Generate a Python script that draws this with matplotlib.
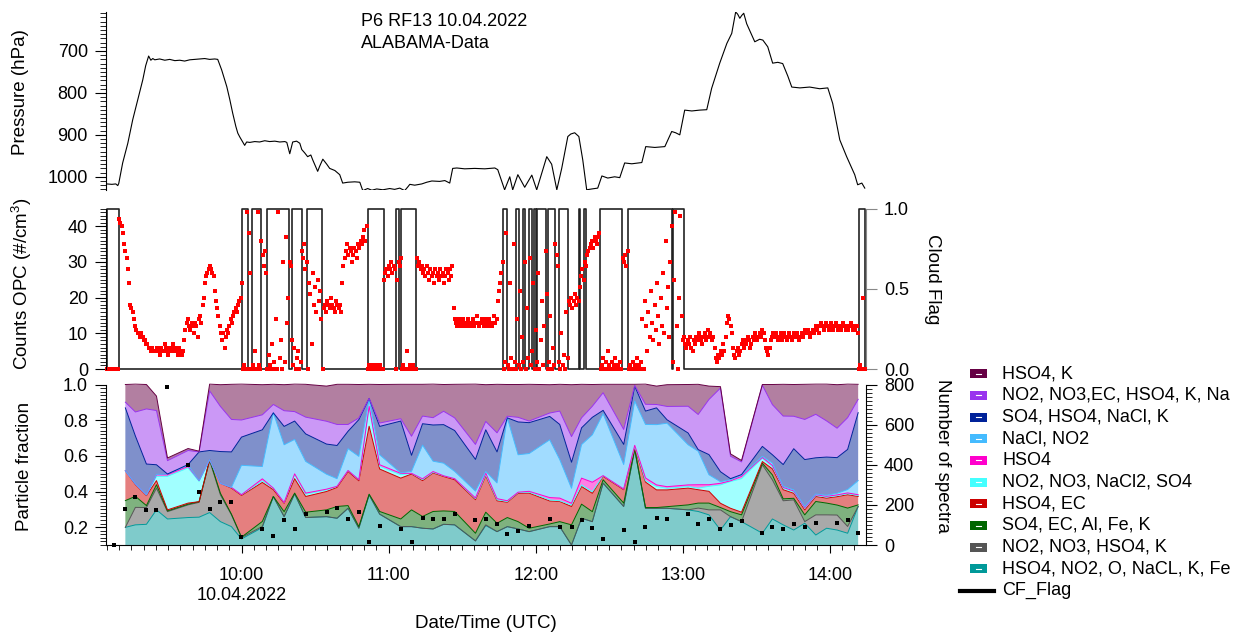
import numpy as np
import matplotlib
matplotlib.use("Agg")
import matplotlib.pyplot as plt
from matplotlib.ticker import MultipleLocator, FormatStrFormatter
from matplotlib.patches import Rectangle
from matplotlib.lines import Line2D

# ==========================================
# Data (times in minutes after 09:00 UTC, 10.04.2022)
# ==========================================

# static pressure along the flight track
press_min = [4.9, 7.0, 8.6, 9.4, 9.8, 11.4, 13.5, 15.5, 17.6, 19.6,
             20.8, 22.0, 22.9, 23.7, 24.5, 26.5, 28.6, 30.6, 32.7, 34.7,
             36.7, 38.8, 40.8, 42.9, 44.9, 46.9, 49.0, 50.2, 51.8, 53.9,
             55.1, 56.3, 57.6, 58.4, 59.2, 61.2, 62.0, 63.3, 65.3, 67.3,
             69.4, 71.4, 73.5, 75.5, 77.6, 78.4, 79.6, 80.8, 82.4, 83.7,
             84.5, 85.7, 86.9, 88.2, 89.0, 91.0, 91.8, 93.1, 94.7, 95.9,
             98.0, 100.0, 101.2, 103.3, 106.1, 108.2, 109.4, 111.4, 113.1, 115.1,
             117.6, 120.4, 122.4, 124.5, 126.5, 127.8, 128.6, 130.6, 133.5, 135.5,
             137.6, 140.8, 142.9, 144.9, 146.1, 147.8, 151.0, 155.1, 159.2, 163.3,
             164.5, 167.3, 169.4, 170.6, 172.7, 175.5, 178.4, 180.4, 184.5, 186.5,
             188.6, 190.6, 193.1, 194.3, 195.9, 197.6, 199.2, 200.8, 202.9, 205.3,
             207.0, 209.4, 212.2, 214.3, 216.3, 219.2, 223.3, 224.9, 228.6, 232.7,
             235.5, 237.1, 238.8, 240.8, 243.7, 246.9, 249.8, 251.8, 255.1, 258.0,
             260.0, 261.6, 262.4, 263.3, 264.1, 264.9, 266.1, 269.4, 271.4, 272.7,
             274.7, 276.7, 278.8, 280.8, 282.9, 284.5, 287.8, 291.8, 295.9, 299.2,
             301.2, 304.1, 306.9, 310.2, 311.4, 313.1, 314.3]
press_hpa = [1017, 1018, 1017, 1021, 1016, 967, 920, 864, 815, 769,
             735, 712, 722, 718, 721, 719, 722, 720, 723, 722,
             724, 721, 720, 719, 718, 720, 719, 720, 745, 785,
             815, 848, 880, 896, 905, 925, 917, 918, 916, 917,
             914, 916, 915, 917, 916, 918, 945, 917, 915, 920,
             935, 943, 952, 948, 960, 987, 975, 958, 970, 980,
             985, 995, 1015, 1013, 1012, 1013, 1033, 1028, 1032, 1029,
             1031, 1028, 1030, 1027, 1033, 1024, 1018, 1020, 1017, 1013,
             1010, 1011, 1009, 1015, 980, 979, 981, 980, 981, 979,
             983, 1031, 1000, 1031, 995, 1025, 996, 1031, 952, 970,
             1031, 980, 904, 898, 895, 904, 960, 1031, 1029, 1027,
             998, 1003, 1000, 1002, 967, 969, 966, 928, 930, 928,
             892, 895, 900, 841, 843, 841, 840, 789, 729, 682,
             658, 607, 612, 622, 615, 610, 635, 678, 672, 674,
             690, 729, 727, 730, 760, 786, 788, 786, 790, 788,
             825, 912, 952, 995, 1019, 1015, 1027]

# OPC counts (#/cm3), one reading every 30 s starting 09:05:00
opc_start_min = 5.0
opc_step_min = 0.5
opc_counts = [
    0, 0, 0, 0, 0, 0, 0, 0, 0, 0, 42, 41, 40, 38, 35, 33, 31, 28, 24, 18,
    17, 16, 14, 12, 11, 10, 10, 9, 10, 9, 8, 8, 7, 7, 6, 6, 5, 6, 5, 5,
    5, 6, 5, 4, 6, 5, 5, 7, 6, 5, 4, 6, 5, 6, 7, 5, 6, 5, 4, 6,
    5, 4, 5, 8, 11, 13, 14, 12, 11, 13, 12, 10, 13, 12, 9, 14, 15, 13, 18, 20,
    24, 26, 27, 28, 29, 28, 27, 26, 22, 19, 17, 15, 12, 10, 8, 10, 6, 9, 11, 10,
    12, 14, 13, 15, 16, 17, 16, 18, 19, 20, 24, 0, 1, 0, 44, 0, 38, 27, 0, 1,
    0, 5, 0, 44, 1, 0, 36, 32, 29, 33, 27, 0, 4, 1, 0, 7, 2, 0, 14, 0,
    44, 3, 8, 0, 30, 2, 37, 13, 20, 30, 29, 8, 1, 6, 0, 3, 5, 0, 2, 33,
    31, 35, 28, 30, 0, 24, 21, 7, 27, 18, 23, 16, 25, 19, 22, 14, 0, 17, 18, 16,
    19, 18, 17, 20, 18, 17, 16, 19, 18, 17, 18, 16, 24, 29, 31, 33, 35, 32, 34, 33,
    30, 32, 34, 33, 31, 35, 34, 36, 35, 37, 39, 36, 40, 0, 1, 0, 0, 1, 0, 0,
    1, 0, 0, 1, 0, 0, 25, 27, 28, 26, 29, 28, 30, 27, 29, 28, 0, 25, 30, 29,
    31, 0, 1, 0, 0, 5, 0, 1, 0, 0, 1, 0, 0, 31, 29, 30, 28, 29, 27, 28,
    26, 29, 27, 25, 28, 26, 27, 24, 28, 26, 27, 25, 28, 26, 27, 24, 26, 28, 27, 25,
    28, 26, 29, 17, 14, 13, 12, 14, 13, 12, 13, 14, 12, 13, 12, 14, 13, 12, 13, 14,
    12, 13, 15, 13, 12, 13, 14, 13, 12, 14, 13, 12, 14, 13, 12, 13, 15, 13, 14, 19,
    22, 24, 27, 30, 0, 2, 38, 1, 0, 24, 3, 0, 35, 2, 0, 14, 1, 22, 0, 9,
    2, 30, 0, 17, 3, 31, 1, 5, 24, 0, 11, 2, 27, 0, 8, 19, 1, 12, 33, 21,
    0, 2, 15, 0, 6, 1, 35, 32, 29, 2, 0, 10, 1, 4, 0, 16, 3, 19, 18, 20,
    17, 19, 21, 18, 20, 19, 23, 26, 28, 25, 30, 29, 32, 33, 34, 35, 36, 34, 37, 36,
    35, 37, 38, 0, 1, 3, 0, 2, 0, 5, 1, 0, 2, 0, 1, 3, 0, 1, 0, 2,
    0, 31, 30, 32, 29, 33, 0, 1, 0, 2, 0, 1, 0, 3, 1, 0, 2, 14, 0, 19,
    12, 5, 16, 9, 22, 13, 8, 18, 11, 24, 15, 7, 20, 12, 27, 10, 36, 17, 23, 9,
    30, 40, 2, 25, 44, 12, 0, 20, 43, 15, 8, 9, 7, 6, 8, 7, 9, 6, 5, 8,
    7, 9, 8, 10, 9, 8, 7, 9, 10, 8, 9, 11, 10, 9, 8, 9, 6, 3, 2, 4,
    3, 5, 4, 7, 5, 9, 13, 15, 14, 12, 10, 6, 4, 3, 5, 6, 4, 5, 7, 8,
    6, 8, 7, 9, 8, 6, 7, 9, 8, 10, 9, 8, 9, 10, 9, 11, 10, 8, 6, 5,
    4, 6, 8, 9, 10, 9, 10, 9, 8, 9, 10, 8, 9, 10, 9, 8, 9, 10, 9, 8,
    9, 10, 9, 10, 9, 8, 9, 10, 9, 10, 11, 10, 11, 10, 9, 10, 11, 10, 11, 12,
    11, 10, 12, 13, 12, 11, 12, 13, 12, 11, 12, 13, 12, 11, 12, 13, 12, 11, 12, 11,
    12, 13, 12, 11, 12, 11, 12, 13, 12, 11, 12, 11, 12, 10, 0, 1, 0, 20, 0, 0,
]

# cloud flag = 1 between start and end
cloud_start_min = [4.9, 60.3, 64.0, 70.5, 80.5, 86.8, 111.6, 122.9, 125.2, 166.7,
                   171.8, 174.6, 177.3, 179.2, 180.5, 185.0, 189.4, 197.6, 199.7,
                   206.1, 217.7, 236.0, 311.8]
cloud_end_min = [9.8, 62.6, 68.0, 79.3, 84.4, 92.9, 118.0, 124.1, 131.3, 168.3,
                 173.2, 175.7, 178.4, 180.3, 184.1, 187.8, 193.2, 198.0, 200.7,
                 215.4, 235.6, 240.5, 314.5]

# ALABAMA particle classes: sample times and fractions
frac_min = [12.5, 16.6, 21.1, 25.2, 29.7, 38.1, 42.6, 46.9, 51.3, 55.8,
            59.9, 68.4, 72.9, 77.3, 81.6, 86.1, 94.6, 98.9, 103.4, 107.8,
            112.0, 116.3, 124.9, 129.3, 133.8, 138.1, 142.4, 146.9, 155.4, 159.6,
            164.2, 168.4, 172.8, 177.3, 185.7, 189.8, 194.6, 198.7, 203.1, 207.5,
            215.9, 220.4, 224.8, 229.3, 233.6, 242.2, 246.3, 250.7, 255.4, 259.5,
            264.0, 272.5, 276.6, 281.0, 285.3, 289.8, 294.3, 298.7, 303.0, 307.3, 311.6]

frac_teal = [0.199, 0.213, 0.216, 0.297, 0.246, 0.254, 0.256, 0.282, 0.231, 0.203,
             0.134, 0.198, 0.372, 0.259, 0.387, 0.254, 0.259, 0.250, 0.306, 0.194,
             0.381, 0.273, 0.203, 0.203, 0.194, 0.190, 0.216, 0.213, 0.123, 0.209,
             0.175, 0.203, 0.190, 0.175, 0.203, 0.203, 0.100, 0.250, 0.231, 0.447,
             0.316, 0.634, 0.306, 0.306, 0.306, 0.297, 0.288, 0.269, 0.184, 0.259,
             0.231, 0.166, 0.246, 0.213, 0.184, 0.222, 0.156, 0.194, 0.184, 0.166, 0.316]
frac_grey = [0.000, 0.098, 0.094, 0.122, 0.041, 0.071, 0.083, 0.291, 0.150, 0.066,
             0.008, 0.006, 0.000, 0.000, 0.000, 0.000, 0.000, 0.000, 0.000, 0.000,
             0.000, 0.000, 0.000, 0.000, 0.000, 0.000, 0.000, 0.000, 0.000, 0.004,
             0.000, 0.000, 0.000, 0.000, 0.000, 0.000, 0.000, 0.000, 0.000, 0.000,
             0.000, 0.000, 0.000, 0.000, 0.000, 0.000, 0.019, 0.028, 0.113, 0.000,
             0.000, 0.384, 0.219, 0.135, 0.169, 0.009, 0.113, 0.075, 0.084, 0.038, 0.000]
frac_green = [0.150, 0.062, 0.011, 0.019, 0.004, 0.004, 0.004, 0.006, 0.009, 0.004,
              0.002, 0.028, 0.000, 0.028, 0.004, 0.030, 0.038, 0.066, 0.015, 0.009,
              0.004, 0.015, 0.043, 0.094, 0.066, 0.098, 0.075, 0.075, 0.043, 0.071,
              0.047, 0.051, 0.041, 0.019, 0.015, 0.028, 0.113, 0.079, 0.056, 0.019,
              0.019, 0.006, 0.004, 0.004, 0.009, 0.028, 0.028, 0.038, 0.013, 0.028,
              0.038, 0.009, 0.028, 0.011, 0.009, 0.038, 0.075, 0.066, 0.056, 0.103, 0.009]
frac_red = [0.167, 0.066, 0.056, 0.023, 0.006, 0.006, 0.000, 0.000, 0.056, 0.146,
            0.234, 0.219, 0.038, 0.047, 0.081, 0.088, 0.103, 0.107, 0.191, 0.257,
            0.381, 0.238, 0.229, 0.201, 0.201, 0.216, 0.193, 0.178, 0.188, 0.204,
            0.126, 0.086, 0.159, 0.197, 0.129, 0.113, 0.103, 0.099, 0.103, 0.019,
            0.075, 0.004, 0.143, 0.099, 0.094, 0.094, 0.075, 0.066, 0.024, 0.019,
            0.015, 0.009, 0.034, 0.051, 0.028, 0.028, 0.028, 0.028, 0.047, 0.075, 0.047]
frac_cyan = [0.000, 0.004, 0.004, 0.024, 0.188, 0.197, 0.114, 0.000, 0.000, 0.004,
             0.004, 0.009, 0.009, 0.004, 0.023, 0.013, 0.009, 0.006, 0.006, 0.006,
             0.103, 0.015, 0.019, 0.004, 0.006, 0.004, 0.004, 0.006, 0.006, 0.006,
             0.006, 0.004, 0.004, 0.006, 0.006, 0.004, 0.009, 0.009, 0.009, 0.004,
             0.004, 0.009, 0.008, 0.019, 0.009, 0.009, 0.009, 0.028, 0.103, 0.150,
             0.188, 0.019, 0.013, 0.009, 0.009, 0.009, 0.006, 0.006, 0.006, 0.006, 0.006]
frac_magenta = [0.000, 0.000, 0.000, 0.009, 0.009, 0.009, 0.004, 0.000, 0.000, 0.000,
                0.000, 0.011, 0.000, 0.000, 0.004, 0.006, 0.004, 0.000, 0.000, 0.000,
                0.009, 0.009, 0.008, 0.000, 0.004, 0.004, 0.000, 0.000, 0.004, 0.009,
                0.006, 0.004, 0.002, 0.004, 0.013, 0.015, 0.009, 0.038, 0.053, 0.000,
                0.000, 0.006, 0.015, 0.009, 0.009, 0.009, 0.019, 0.009, 0.009, 0.004,
                0.013, 0.004, 0.006, 0.004, 0.004, 0.004, 0.004, 0.004, 0.004, 0.004, 0.004]
frac_lightblue = [0.000, 0.000, 0.000, 0.002, 0.004, 0.006, 0.000, 0.000, 0.000, 0.000,
                  0.165, 0.069, 0.422, 0.324, 0.193, 0.178, 0.084, 0.043, 0.122, 0.131,
                  0.038, 0.056, 0.002, 0.011, 0.189, 0.058, 0.071, 0.041, 0.038, 0.009,
                  0.088, 0.465, 0.210, 0.212, 0.324, 0.216, 0.084, 0.188, 0.266, 0.347,
                  0.137, 0.248, 0.300, 0.338, 0.356, 0.225, 0.188, 0.056, 0.009, 0.006,
                  0.006, 0.006, 0.013, 0.006, 0.006, 0.006, 0.004, 0.006, 0.009, 0.019, 0.079]
frac_blue = [0.353, 0.268, 0.173, 0.054, 0.000, 0.004, 0.161, 0.051, 0.178, 0.199,
             0.158, 0.206, 0.000, 0.103, 0.103, 0.154, 0.169, 0.186, 0.098, 0.206,
             0.006, 0.159, 0.291, 0.090, 0.120, 0.203, 0.216, 0.229, 0.178, 0.234,
             0.174, 0.000, 0.184, 0.173, 0.131, 0.197, 0.146, 0.094, 0.098, 0.019,
             0.113, 0.084, 0.075, 0.094, 0.019, 0.066, 0.009, 0.113, 0.056, 0.006,
             0.004, 0.056, 0.047, 0.122, 0.231, 0.263, 0.203, 0.214, 0.200, 0.225, 0.381]
frac_lavender = [0.032, 0.135, 0.309, 0.304, 0.075, 0.079, 0.000, 0.334, 0.253, 0.182,
                 0.096, 0.084, 0.047, 0.088, 0.053, 0.094, 0.128, 0.118, 0.038, 0.009,
                 0.000, 0.019, 0.013, 0.107, 0.043, 0.041, 0.075, 0.071, 0.084, 0.047,
                 0.107, 0.009, 0.026, 0.009, 0.019, 0.075, 0.144, 0.056, 0.062, 0.099,
                 0.084, 0.004, 0.038, 0.019, 0.075, 0.150, 0.197, 0.309, 0.469, 0.126,
                 0.071, 0.343, 0.281, 0.272, 0.182, 0.225, 0.244, 0.203, 0.165, 0.178, 0.075]
frac_mauve = [0.099, 0.156, 0.137, 0.081, 0.015, 0.011, 0.004, 0.038, 0.122, 0.197,
              0.201, 0.169, 0.113, 0.146, 0.154, 0.184, 0.197, 0.225, 0.225, 0.188,
              0.079, 0.216, 0.193, 0.291, 0.178, 0.188, 0.150, 0.188, 0.338, 0.206,
              0.272, 0.178, 0.184, 0.206, 0.159, 0.150, 0.291, 0.188, 0.122, 0.047,
              0.253, 0.006, 0.113, 0.103, 0.122, 0.122, 0.169, 0.075, 0.008, 0.013,
              0.008, 0.004, 0.113, 0.178, 0.178, 0.197, 0.169, 0.206, 0.244, 0.188, 0.084]

# number of spectra per interval (first one before the class data starts)
spectra_first_min = [7.8]
spectra_first = [0]
n_spectra = [178, 237, 172, 175, 788, 400, 263, 178, 215, 212,
             42, 80, 45, 123, 78, 153, 165, 183, 132, 165,
             13, 97, 80, 13, 135, 132, 132, 157, 123, 131,
             104, 53, 70, 95, 132, 88, 92, 123, 83, 30,
             73, 13, 88, 137, 128, 153, 105, 132, 80, 100,
             120, 60, 88, 80, 105, 88, 108, np.nan, 112, 123, 62]

# legend order (top of the stack first)
class_labels = ["HSO4, K", "NO2, NO3,EC, HSO4, K, Na", "SO4, HSO4, NaCl, K",
                "NaCl, NO2", "HSO4", "NO2, NO3, NaCl2, SO4", "HSO4, EC",
                "SO4, EC, Al, Fe, K", "NO2, NO3, HSO4, K", "HSO4, NO2, O, NaCL, K, Fe"]
class_colors = ["#660044", "#9933ee", "#002299", "#44bbff", "#ff00cc",
                "#44ffff", "#cc0000", "#006600", "#555555", "#009999"]

hour_ticks_min = [60, 120, 180, 240, 300]
hour_labels = ["10:00\n10.04.2022", "11:00", "12:00", "13:00", "14:00"]
x_lim = (4.6, 314.8)

# ==========================================
# Figure
# ==========================================
plt.rcParams['font.family'] = ['Liberation Sans', 'DejaVu Sans']
plt.rcParams['mathtext.fontset'] = 'custom'
plt.rcParams['mathtext.rm'] = 'Liberation Sans'
plt.rcParams['mathtext.it'] = 'Liberation Sans:italic'
plt.rcParams['axes.linewidth'] = 0.8

W, H = 1258, 641
fig = plt.figure(figsize=(W / 100, H / 100), dpi=100)


def fpos(x, y):
    return x / W, 1 - y / H


def style_y(ax, color='black'):
    ax.tick_params(axis='y', which='major', direction='out', length=8, width=0.8,
                   labelsize=13, pad=5, color=color)
    ax.tick_params(axis='y', which='minor', direction='out', length=4.5, width=0.6,
                   color=color)


ax_p = fig.add_axes([106 / W, 1 - 190 / H, 760 / W, 178 / H])
ax_o = fig.add_axes([106 / W, 1 - 369 / H, 760 / W, 160.5 / H])
ax_f = fig.add_axes([106 / W, 1 - 545 / H, 760 / W, 160.5 / H])

# --- pressure
ax_p.plot(press_min, press_hpa, color='black', lw=0.8)
ax_p.set_xlim(*x_lim)
ax_p.set_ylim(1031.5, 607)
ax_p.yaxis.set_major_locator(MultipleLocator(100))
ax_p.yaxis.set_minor_locator(MultipleLocator(10))
for s in ['top', 'right', 'bottom']:
    ax_p.spines[s].set_visible(False)
ax_p.tick_params(axis='x', which='both', bottom=False, labelbottom=False)
style_y(ax_p)

# --- OPC counts and cloud flag
ax_c = ax_o.twinx()
ax_c.set_zorder(ax_o.get_zorder() - 1)
ax_o.patch.set_visible(False)

flag_x, flag_y = [], []
for s, e in zip(cloud_start_min, cloud_end_min):
    flag_x += [s, s, e, e]
    flag_y += [0, 1, 1, 0]
ax_c.plot(flag_x, flag_y, color='#222222', lw=1.2, clip_on=False)
ax_c.set_ylim(0, 1)
ax_c.set_yticks([0, 0.5, 1.0])
ax_c.yaxis.set_major_formatter(FormatStrFormatter('%.1f'))
for s in ['top', 'left', 'bottom']:
    ax_c.spines[s].set_visible(False)
ax_c.spines['right'].set_color('#888888')
style_y(ax_c, color='#888888')

opc_min = opc_start_min + opc_step_min * np.arange(len(opc_counts))
ax_o.plot(opc_min, opc_counts, 's', color='red', ms=2.6, mew=0, clip_on=False)
ax_o.set_xlim(*x_lim)
ax_o.set_ylim(0, 45)
ax_o.yaxis.set_major_locator(MultipleLocator(10))
ax_o.yaxis.set_minor_locator(MultipleLocator(1))
for s in ['top', 'right', 'bottom']:
    ax_o.spines[s].set_visible(False)
ax_o.tick_params(axis='x', which='both', bottom=False, labelbottom=False)
style_y(ax_o)

# --- particle classes
layers = [frac_teal, frac_grey, frac_green, frac_red, frac_cyan, frac_magenta,
          frac_lightblue, frac_blue, frac_lavender, frac_mauve]
layer_colors = class_colors[::-1]
fm = np.array(frac_min)
base = np.zeros(len(fm))
tops = []
for vals, col in zip(layers, layer_colors):
    top = base + np.array(vals)
    ax_f.fill_between(fm, base, top, facecolor=col, alpha=0.5, lw=0)
    tops.append(top)
    base = top
for top, col in zip(tops, layer_colors):
    ax_f.plot(fm, top, color=col, lw=0.7, clip_on=False)

ax_f.set_xlim(*x_lim)
ax_f.set_ylim(0.1, 1.0)
ax_f.yaxis.set_major_locator(MultipleLocator(0.2))
ax_f.yaxis.set_minor_locator(MultipleLocator(0.02))
ax_f.yaxis.set_major_formatter(FormatStrFormatter('%.1f'))
ax_f.spines['top'].set_visible(False)
ax_f.spines['right'].set_visible(False)
style_y(ax_f)
ax_f.set_xticks(hour_ticks_min)
ax_f.set_xticklabels(hour_labels, linespacing=1.2)
ax_f.xaxis.set_minor_locator(MultipleLocator(5))
ax_f.tick_params(axis='x', which='major', direction='out', length=6, width=0.8,
                 labelsize=13, pad=10)
ax_f.tick_params(axis='x', which='minor', direction='out', length=3.5, width=0.6)

ax_n = ax_f.twinx()
ax_n.plot(spectra_first_min + frac_min, spectra_first + n_spectra, 's',
          color='black', ms=3, mew=0, clip_on=False)
ax_n.set_ylim(0, 800)
ax_n.yaxis.set_major_locator(MultipleLocator(200))
ax_n.yaxis.set_minor_locator(MultipleLocator(20))
for s in ['top', 'left', 'bottom']:
    ax_n.spines[s].set_visible(False)
style_y(ax_n)

# --- axis titles and annotations
fig.text(*fpos(361, 21.7), "P6 RF13 10.04.2022", fontsize=13, va='center')
fig.text(*fpos(361, 43.3), "ALABAMA-Data", fontsize=13, va='center')
fig.text(*fpos(21, 92), "Pressure (hPa)", rotation=90, fontsize=13.5,
         ha='center', va='center')
fig.text(*fpos(22, 284), r"Counts OPC (#/cm$^{3}$)", rotation=90, fontsize=13.5,
         ha='center', va='center')
fig.text(*fpos(25, 466), "Particle fraction", rotation=90, fontsize=13.5,
         ha='center', va='center')
fig.text(*fpos(933, 279), "Cloud Flag", rotation=270, fontsize=13.5,
         ha='center', va='center')
fig.text(*fpos(942, 456), "Number of spectra", rotation=270, fontsize=13.5,
         ha='center', va='center')
fig.text(*fpos(486, 624), "Date/Time (UTC)", fontsize=13.5, ha='center', va='center')

# --- legend
for i, (lab, col) in enumerate(zip(class_labels, class_colors)):
    yc = 373.6 + i * 21.7
    fig.add_artist(Rectangle(fpos(970, yc + 4.5), 17 / W, 9 / H, facecolor=col,
                             edgecolor='none', transform=fig.transFigure))
    x0, y0 = fpos(975.5, yc)
    x1, _ = fpos(981.5, yc)
    fig.add_artist(Line2D([x0, x1], [y0, y0], color='white', lw=0.8,
                          transform=fig.transFigure))
    fig.text(*fpos(1002.5, yc), lab, fontsize=13, va='center', ha='left')
yc = 373.6 + 10 * 21.7
x0, y0 = fpos(960, yc)
x1, _ = fpos(994, yc)
fig.add_artist(Line2D([x0, x1], [y0, y0], color='black', lw=3,
                      transform=fig.transFigure))
fig.text(*fpos(1002.5, yc), "CF_Flag", fontsize=13, va='center', ha='left')

fig.savefig("out.png", dpi=100)
